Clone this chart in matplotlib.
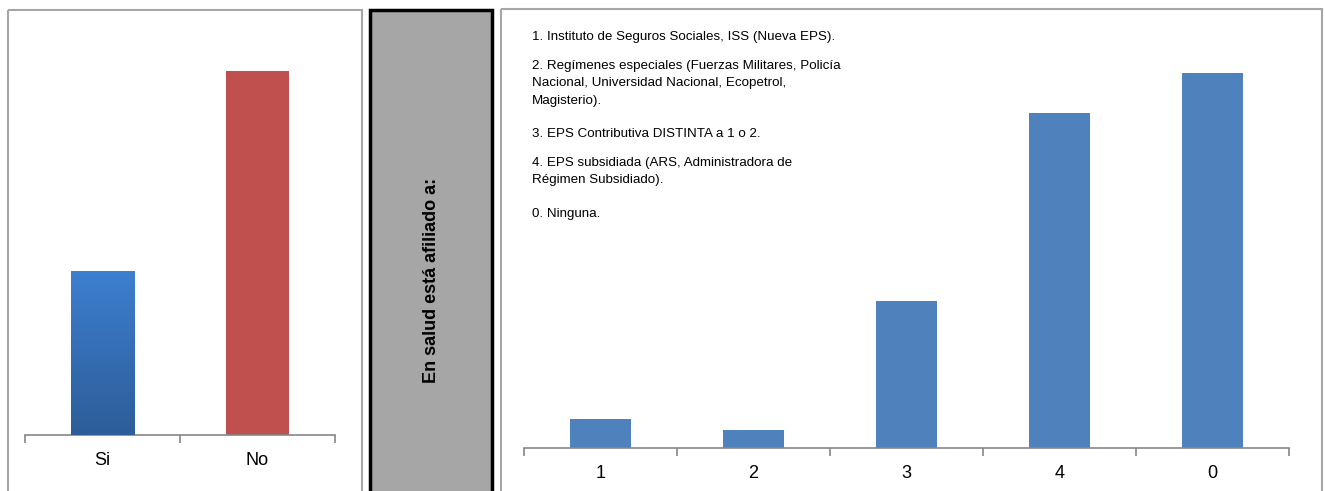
"""Afiliación en salud: two bar panels with a label strip in between."""

import matplotlib
matplotlib.use("Agg")
import matplotlib.pyplot as plt
import numpy as np
from matplotlib import font_manager
from matplotlib.colors import LinearSegmentedColormap
from matplotlib.patches import Rectangle

# data
yes_no_labels = ["Si", "No"]
yes_no_values = [45, 100]

eps_labels = ["1", "2", "3", "4", "0"]
eps_values = [8, 5, 40, 91, 102]

legend_lines = [
    "1. Instituto de Seguros Sociales, ISS (Nueva EPS).",
    "2. Regímenes especiales (Fuerzas Militares, Policía\nNacional, Universidad Nacional, Ecopetrol,\nMagisterio).",
    "3. EPS Contributiva DISTINTA a 1 o 2.",
    "4. EPS subsidiada (ARS, Administradora de\nRégimen Subsidiado).",
    "0. Ninguna.",
]
strip_title = "En salud está afiliado a:"

W, H = 1325, 491
available = {f.name for f in font_manager.fontManager.ttflist}
narrow = "Liberation Sans Narrow" if "Liberation Sans Narrow" in available else "Liberation Sans"

fig = plt.figure(figsize=(W / 100, H / 100), dpi=100)
fig.patch.set_facecolor("white")


def px_axes(x0, y0, x1, y1):
    """Axes placed by pixel box (y measured from top)."""
    return fig.add_axes([x0 / W, 1 - y1 / H, (x1 - x0) / W, (y1 - y0) / H])


# background frames
bg = fig.add_axes([0, 0, 1, 1])
bg.set_xlim(0, W)
bg.set_ylim(H, 0)
bg.axis("off")
bg.add_patch(Rectangle((8, 10), 354, 500, fill=False, ec="#a6a6a6", lw=1.5))
bg.add_patch(Rectangle((370, 10), 122, 500, fc="#a6a6a6", ec="black", lw=2.5))
bg.add_patch(Rectangle((501, 9), 821, 500, fill=False, ec="#a6a6a6", lw=1.5))
bg.text(431, 280, strip_title, rotation=90, ha="center", va="center",
        fontsize=13, fontweight="bold", family="Liberation Sans", color="black")


def style_axis(ax, labels, top):
    n = len(labels)
    ax.set_xlim(-0.5, n - 0.5)
    ax.set_ylim(0, top)
    for side in ("top", "right", "left"):
        ax.spines[side].set_visible(False)
    ax.spines["bottom"].set_color("#868686")
    ax.spines["bottom"].set_linewidth(1.2)
    ax.set_yticks([])
    ax.set_xticks(range(n))
    ax.set_xticklabels(labels, family=narrow, fontsize=13)
    ax.tick_params(axis="x", which="major", length=0, pad=12)
    ax.set_xticks(np.arange(-0.5, n), minor=True)
    ax.tick_params(axis="x", which="minor", length=6, width=1.2, color="#868686")
    ax.patch.set_alpha(0)


# left panel: Si / No
ax1 = px_axes(25, 30, 335, 435)
bars1 = ax1.bar(range(len(yes_no_values)), yes_no_values, width=0.41,
                color=["#3a78c6", "#c0504d"], zorder=2)

# vertical gradient on the "Si" bar
si = bars1[0]
grad = LinearSegmentedColormap.from_list("si", ["#2d5d98", "#3d7fd0"])
x0, w, h = si.get_x(), si.get_width(), si.get_height()
img = ax1.imshow(np.linspace(0, 1, 256).reshape(-1, 1), cmap=grad, origin="lower",
                 extent=[x0, x0 + w, 0, h], aspect="auto", zorder=3)
img.set_clip_path(si)
style_axis(ax1, yes_no_labels, 111.3)

# right panel: EPS type
ax2 = px_axes(524, 20, 1289, 448)
ax2.bar(range(len(eps_values)), eps_values, width=0.40, color="#4f81bd", zorder=2)
style_axis(ax2, eps_labels, 116.3)

# explanatory text block (first-line centre heights in pixels)
block_y = [35, 64, 132, 161, 212]
for block, yc in zip(legend_lines, block_y):
    bg.text(532, yc - 4, block, ha="left", va="top", fontsize=9.6, family=narrow,
            linespacing=1.6, color="black")

fig.savefig("out.png", dpi=100)
